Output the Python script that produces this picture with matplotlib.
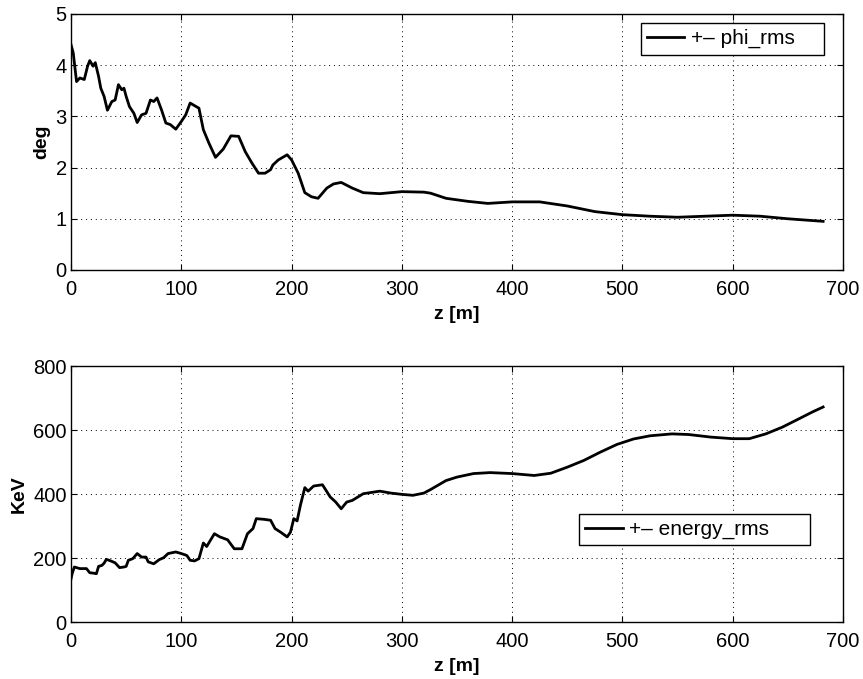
import matplotlib
matplotlib.use('Agg')
import matplotlib.pyplot as plt

# phi_rms trace
z_phi = [0, 2, 5, 8, 12, 15, 17, 20, 22, 25, 27, 30, 33, 37, 40, 43, 46, 48, 50, 53,
         57, 60, 64, 68, 72, 75, 78, 82, 86, 90, 95, 100, 104, 108, 112, 116, 120, 125,
         131, 138, 145, 152, 158, 164, 170, 176, 181, 183, 188, 192, 196, 200, 206, 212,
         218, 224, 232, 238, 245, 255, 265, 280, 300, 320, 326, 340, 360, 378, 400, 425,
         450, 475, 500, 525, 550, 575, 600, 625, 650, 682]
phi_rms = [4.40, 4.24, 3.68, 3.75, 3.72, 3.98, 4.09, 3.98, 4.05, 3.78, 3.55, 3.39, 3.12,
           3.29, 3.32, 3.62, 3.52, 3.55, 3.39, 3.19, 3.06, 2.88, 3.03, 3.06, 3.32, 3.29,
           3.36, 3.13, 2.87, 2.84, 2.75, 2.90, 3.03, 3.26, 3.21, 3.16, 2.74, 2.48, 2.20,
           2.36, 2.62, 2.61, 2.31, 2.09, 1.89, 1.89, 1.96, 2.05, 2.15, 2.20, 2.25, 2.15,
           1.89, 1.51, 1.43, 1.40, 1.60, 1.68, 1.71, 1.60, 1.51, 1.49, 1.53, 1.52, 1.50,
           1.40, 1.34, 1.30, 1.33, 1.33, 1.25, 1.14, 1.08, 1.05, 1.03, 1.05, 1.07, 1.05,
           1.00, 0.95]

# energy_rms trace
z_en = [0, 1, 3, 5, 8, 14, 17, 20, 23, 25, 28, 30, 32, 36, 40, 44, 48, 50, 52, 56, 60,
        64, 68, 70, 75, 80, 84, 88, 95, 100, 105, 108, 112, 116, 120, 123, 130, 135, 142,
        148, 155, 160, 165, 168, 175, 181, 185, 190, 196, 199, 202, 205, 208, 212, 215,
        220, 228, 235, 240, 245, 250, 255, 265, 280, 290, 300, 310, 320, 326, 340, 350,
        365, 380, 400, 420, 435, 450, 465, 480, 495, 510, 525, 545, 560, 580, 600, 615,
        630, 645, 660, 672, 682]
energy_rms = [135, 151, 172, 170, 167, 167, 154, 153, 151, 174, 177, 184, 196, 191, 185,
              170, 172, 174, 193, 198, 214, 203, 203, 188, 182, 195, 201, 214, 219, 214,
              208, 193, 191, 198, 247, 236, 276, 266, 257, 229, 229, 276, 292, 323, 321,
              318, 292, 281, 266, 281, 323, 316, 365, 420, 409, 425, 429, 391, 375, 354,
              375, 380, 401, 409, 403, 399, 396, 403, 414, 442, 453, 464, 467, 464, 458,
              465, 484, 505, 531, 555, 572, 582, 588, 586, 578, 573, 573, 588, 609, 635,
              656, 672]

plt.rcParams['font.family'] = ['Liberation Sans', 'DejaVu Sans']

fig = plt.figure(figsize=(8.63, 6.79), dpi=100)
ax1 = fig.add_axes([0.0823, 0.6024, 0.8945, 0.377])
ax2 = fig.add_axes([0.0823, 0.0839, 0.8945, 0.377])

# trailing spaces give the wide matlab-style legend box
ax1.plot(z_phi, phi_rms, color='black', lw=2, label='+\u2013 phi_rms    ')
ax1.set_ylim(0, 5)
ax1.set_ylabel('deg', fontsize=14, fontweight='bold', labelpad=4)
leg1 = ax1.legend(loc='upper right', bbox_to_anchor=(0.975, 0.965), fontsize=15,
                  fancybox=False, edgecolor='black', framealpha=1,
                  borderaxespad=0, handlelength=1.8, handletextpad=0.3,
                  borderpad=0.3)

ax2.plot(z_en, energy_rms, color='black', lw=2, label='+\u2013 energy_rms      ')
ax2.set_ylim(0, 800)
ax2.set_yticks([0, 200, 400, 600, 800])
ax2.set_ylabel('KeV', fontsize=14, fontweight='bold', labelpad=4)
leg2 = ax2.legend(loc='center right', bbox_to_anchor=(0.957, 0.361), fontsize=15,
                  fancybox=False, edgecolor='black', framealpha=1,
                  borderaxespad=0, handlelength=1.8, handletextpad=0.3,
                  borderpad=0.3)

for ax, leg in ((ax1, leg1), (ax2, leg2)):
    leg.get_frame().set_linewidth(1.0)
    ax.set_xlim(0, 700)
    ax.set_xticks(range(0, 701, 100))
    ax.set_xlabel('z [m]', fontsize=14, fontweight='bold', labelpad=5)
    ax.grid(True, linestyle=(0, (1, 4)), color='black', linewidth=0.7)
    ax.tick_params(direction='in', top=True, right=True, labelsize=14.5, length=4)
    ax.tick_params(axis='x', pad=7)
    ax.tick_params(axis='y', pad=3)
    for s in ax.spines.values():
        s.set_linewidth(1.0)

fig.savefig('out.png', dpi=100)
